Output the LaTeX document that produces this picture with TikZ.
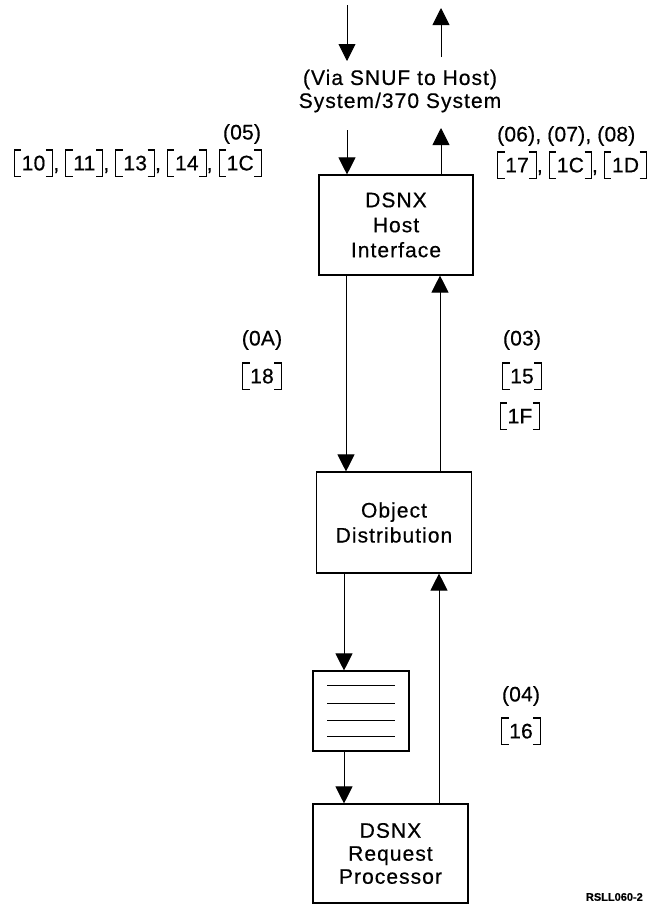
\documentclass[tikz,border=0pt]{standalone}
\usepackage{fontspec}
\setmainfont{Liberation Sans}[FakeBold=0.5]
\newfontfamily\widefont{Liberation Sans}[LetterSpace=5,FakeBold=0.5]
\newfontfamily\lblfont{Liberation Sans}[LetterSpace=1,FakeBold=0.5]
\usetikzlibrary{arrows.meta,calc}
\newcommand\lbr{\rule[-0.3em]{0.055em}{1.3em}\rlap{\rule[-0.3em]{0.3em}{0.055em}}\rule[0.945em]{0.3em}{0.055em}\kern0.03em}
\newcommand\rbr{\kern0.03em\rlap{\rule[-0.3em]{0.3em}{0.055em}}\rule[0.945em]{0.3em}{0.055em}\rule[-0.3em]{0.055em}{1.3em}}
\newcommand\bx[1]{\lbr#1\rbr}
\begin{document}
\begin{tikzpicture}[x=1pt,y=-1pt,
  font=\fontsize{21}{25}\selectfont,
  box/.style={draw,line width=1.1pt,inner sep=0pt,align=center,font=\fontsize{21}{25}\widefont},
  arr/.style={line width=0.9pt,-{Triangle[width=17pt,length=17pt]}},
  ln/.style={line width=0.9pt},
  lbl/.style={inner sep=0pt,font=\fontsize{21}{25}\lblfont}]
\path[use as bounding box] (0,0) rectangle (653,922);
% boxes
\node[box,minimum width=154pt,minimum height=100pt] (host) at (396,225) {DSNX\\Host\\Interface};
\node[box,minimum width=155pt,minimum height=101pt] (obj) at (394,522.5) {Object\\Distribution};
\node[box,minimum width=96pt,minimum height=80pt] (doc) at (361,711) {};
\node[box,minimum width=155pt,minimum height=99pt,font=\fontsize{21}{23}\widefont] (proc) at (390.5,853.5) {DSNX\\Request\\Processor};
% document lines
\foreach \yy in {15,33,50,66}
  \draw[ln] ($(doc.north west)+(15,\yy)$) -- ($(doc.north west)+(83,\yy)$);
% system text
\node[inner sep=0pt,align=center,font=\fontsize{21}{23}\widefont] (sys) at (400,91) {(Via SNUF to Host)\\System/370 System};
% coordinates for free ends
\coordinate (inA) at (347,5);
\coordinate (inB) at (347,61);
\coordinate (outA) at (441,8);
\coordinate (outB) at (441,57);
\coordinate (inC) at (347,130);
\coordinate (outC) at (441,128);
\coordinate (xL) at (346,0);
\coordinate (xR) at (440,0);
\coordinate (xL2) at (344,0);
\coordinate (xR2) at (439,0);
% connectors
\draw[arr] (inA) -- (inB);
\draw[arr] (outB) -- (outA);
\draw[arr] (inC) -- (inC |- host.north);
\draw[arr] (host.north -| outC) -- (outC);
\draw[arr] (host.south -| xL) -- (obj.north -| xL);
\draw[arr] (obj.north -| xR) -- (host.south -| xR);
\draw[arr] (obj.south -| xL2) -- (doc.north -| xL2);
\draw[arr] (doc.south -| xL2) -- (proc.north -| xL2);
\draw[arr] (proc.north -| xR2) -- (obj.south -| xR2);
% labels
\node[lbl] (l05) at (242,134) {(05)};
\node[lbl,anchor=east] (b05) at (262,163) {\bx{10}, \bx{11}, \bx{13}, \bx{14}, \bx{1C}};
\node[lbl,anchor=west] (l06) at (497,136) {(06), (07), (08)};
\node[lbl,anchor=west] (b06) at (497,165) {\bx{17}, \bx{1C}, \bx{1D}};
\node[lbl] (l0A) at (262,340) {(0A)};
\node[lbl] (b18) at (262,376) {\bx{18}};
\node[lbl] (l03) at (522,340) {(03)};
\node[lbl] (b15) at (522,376) {\bx{15}};
\node[lbl] (b1F) at (520,416) {\bx{1F}};
\node[lbl] (l04) at (521,696) {(04)};
\node[lbl] (b16) at (521,731) {\bx{16}};
\node[inner sep=0pt,anchor=east,font=\fontsize{11}{13}\selectfont\bfseries] (fig) at (643,897) {RSLL060-2};
\end{tikzpicture}
\end{document}
